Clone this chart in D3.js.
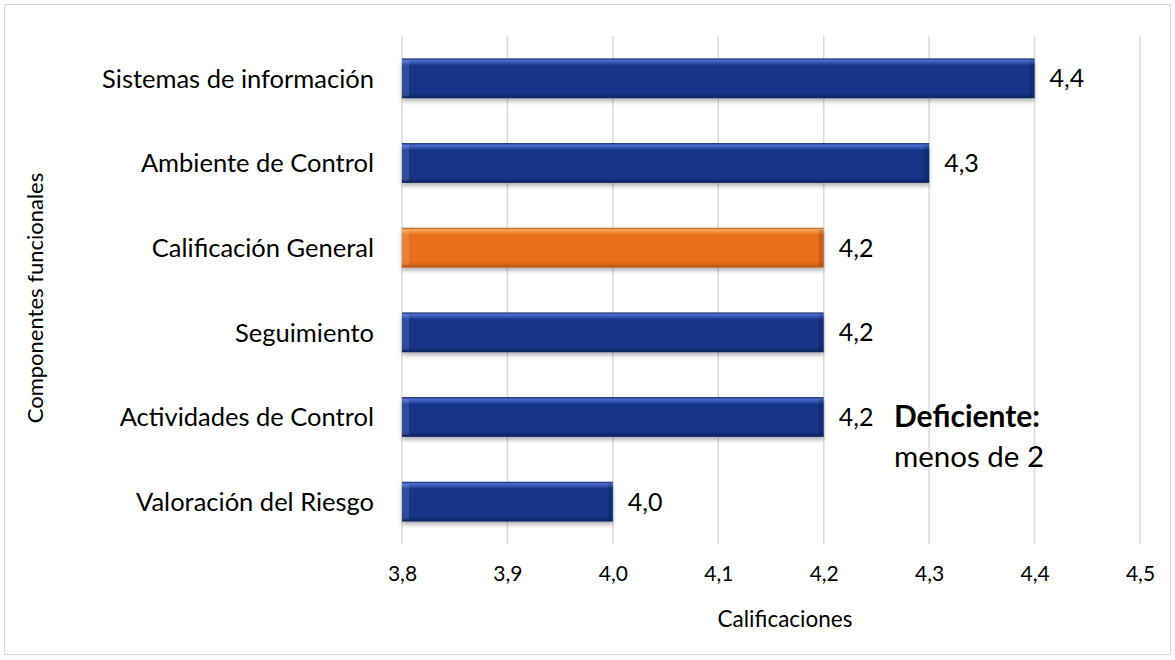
<!DOCTYPE html>
<html>
<head>
<meta charset="utf-8">
<script src="https://cdn.jsdelivr.net/npm/d3@7"></script>
<style>
  body { margin: 0; background: #fff; }
  svg text { font-family: Lato, "Open Sans", sans-serif; fill: #000; }
</style>
</head>
<body>
<svg id="chart" width="1175" height="660"></svg>
<script>
// datos
var categories = ['Sistemas de información', 'Ambiente de Control', 'Calificación General',
    'Seguimiento', 'Actividades de Control', 'Valoración del Riesgo'];
var values = [4.4, 4.3, 4.2, 4.2, 4.2, 4.0];
var highlight = ['Calificación General'];
var xTicks = [3.8, 3.9, 4.0, 4.1, 4.2, 4.3, 4.4, 4.5];

var svg = d3.select('#chart');
var plotLeft = 402, plotRight = 1140, plotTop = 36, plotBottom = 544;

// marco exterior
svg.append('rect')
    .attr('x', 4.5).attr('y', 4.5)
    .attr('width', 1166).attr('height', 650)
    .attr('fill', '#fff')
    .attr('stroke', '#d9d9d9');

var defs = svg.append('defs');
function gradient(id, light, mid, dark) {
    var g = defs.append('linearGradient').attr('id', id)
        .attr('x1', 0).attr('y1', 0).attr('x2', 0).attr('y2', 1);
    g.append('stop').attr('offset', '0%').attr('stop-color', dark);
    g.append('stop').attr('offset', '5%').attr('stop-color', light);
    g.append('stop').attr('offset', '18%').attr('stop-color', mid);
    g.append('stop').attr('offset', '86%').attr('stop-color', mid);
    g.append('stop').attr('offset', '100%').attr('stop-color', dark);
}
gradient('gBlue', '#4d6dd2', '#17368a', '#0d235f');
gradient('gOrange', '#f9aa58', '#e8701a', '#b5520e');

var shadow = defs.append('filter').attr('id', 'shadow')
    .attr('x', '-5%').attr('y', '-20%').attr('width', '110%').attr('height', '160%');
shadow.append('feDropShadow').attr('dx', 0).attr('dy', 3)
    .attr('stdDeviation', 2).attr('flood-color', '#000').attr('flood-opacity', 0.3);

var xScale = d3.scaleLinear()
    .domain([3.8, 4.5])
    .range([plotLeft, plotRight]);

var yScale = d3.scaleBand()
    .domain(categories)
    .range([plotTop, plotBottom])
    .paddingInner(0.53)
    .paddingOuter(0.265);

var fmt = function(v) { return d3.format('.1f')(v).replace('.', ','); };

// lineas de cuadricula
svg.append('g')
    .selectAll('line')
    .data(xTicks)
    .enter()
    .append('line')
    .attr('x1', function(d) { return xScale(d); })
    .attr('x2', function(d) { return xScale(d); })
    .attr('y1', plotTop)
    .attr('y2', plotBottom)
    .attr('stroke', '#d9d9d9')
    .attr('stroke-width', 1.5);

// eje x
var xAxis = svg.append('g')
    .attr('transform', 'translate(0,' + plotBottom + ')')
    .call(d3.axisBottom(xScale).tickValues(xTicks).tickFormat(fmt).tickSize(0).tickPadding(22));
xAxis.select('.domain').remove();
xAxis.selectAll('text').style('font-size', '21px').style('font-family', 'Lato, sans-serif');

// barras
var bars = svg.append('g')
    .selectAll('g')
    .data(values)
    .enter()
    .append('g');

bars.append('rect')
    .attr('x', xScale(3.8))
    .attr('y', function(d, i) { return yScale(categories[i]); })
    .attr('width', function(d) { return xScale(d) - xScale(3.8); })
    .attr('height', yScale.bandwidth())
    .attr('fill', function(d, i) {
        return highlight.indexOf(categories[i]) >= 0 ? 'url(#gOrange)' : 'url(#gBlue)';
    })
    .attr('filter', 'url(#shadow)');

// bisel izquierdo y derecho
bars.append('rect')
    .attr('x', xScale(3.8))
    .attr('y', function(d, i) { return yScale(categories[i]) + 2; })
    .attr('width', 7)
    .attr('height', yScale.bandwidth() - 4)
    .attr('fill', '#fff')
    .attr('opacity', 0.12);
bars.append('rect')
    .attr('x', function(d) { return xScale(d) - 5; })
    .attr('y', function(d, i) { return yScale(categories[i]) + 2; })
    .attr('width', 5)
    .attr('height', yScale.bandwidth() - 4)
    .attr('fill', '#000')
    .attr('opacity', 0.15);

// etiquetas de valor
svg.append('g')
    .selectAll('text')
    .data(values)
    .enter()
    .append('text')
    .attr('x', function(d) { return xScale(d) + 15; })
    .attr('y', function(d, i) { return yScale(categories[i]) + yScale.bandwidth() / 2; })
    .attr('dy', '0.36em')
    .style('font-size', '25px')
    .text(fmt);

// etiquetas de categoria
svg.append('g')
    .selectAll('text')
    .data(categories)
    .enter()
    .append('text')
    .attr('x', 374)
    .attr('y', function(d) { return yScale(d) + yScale.bandwidth() / 2; })
    .attr('dy', '0.36em')
    .attr('text-anchor', 'end')
    .style('font-size', '25.5px')
    .text(function(d) { return d; });

// titulos de ejes
svg.append('text')
    .attr('x', 785)
    .attr('y', 627)
    .attr('text-anchor', 'middle')
    .style('font-size', '22.5px')
    .text('Calificaciones');

svg.append('text')
    .attr('transform', 'translate(43,' + 298 + ') rotate(-90)')
    .attr('text-anchor', 'middle')
    .style('font-size', '22px')
    .text('Componentes funcionales');

// nota
svg.append('text')
    .attr('x', 894).attr('y', 427)
    .style('font-size', '30px').style('font-weight', 'bold')
    .text('Deficiente:');
svg.append('text')
    .attr('x', 894).attr('y', 467)
    .style('font-size', '29.5px')
    .text('menos de 2');
</script>
</body>
</html>
